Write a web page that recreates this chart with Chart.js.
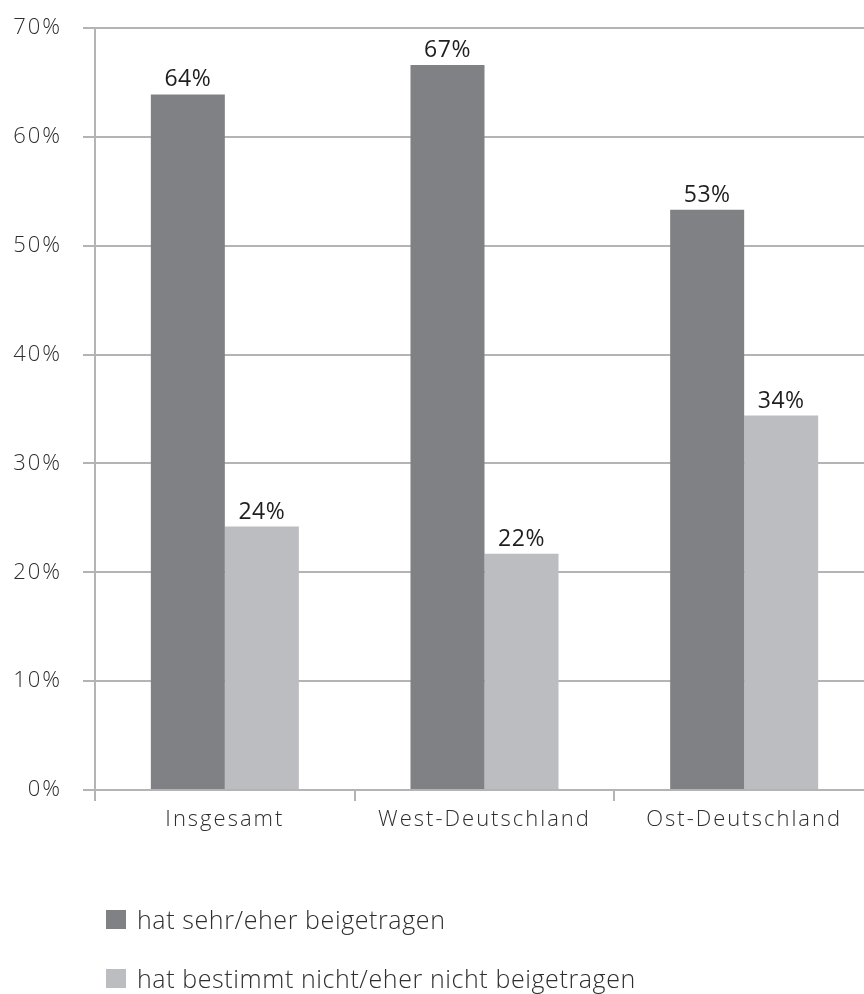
<!DOCTYPE html>
<html>
<head>
<meta charset="utf-8">
<script src="https://cdn.jsdelivr.net/npm/chart.js@4"></script>
<style>
  html, body { margin: 0; padding: 0; background: #fff; overflow: hidden; }
  #wrap { position: relative; width: 874px; height: 994px; }
  #legend { position: absolute; left: 106px; top: 903px; font-family: "Open Sans", sans-serif; font-weight: 300; font-size: 25px; letter-spacing: 0.6px; color: #2e2e2e; }
  .item { display: flex; align-items: center; height: 32px; margin-bottom: 27px; }
  .sw { width: 20px; height: 19px; margin-right: 11px; }
</style>
</head>
<body>
<div id="wrap">
  <canvas id="c" width="874" height="994"></canvas>
  <div id="legend"></div>
</div>
<script>
const categories = ["Insgesamt", "West-Deutschland", "Ost-Deutschland"];
const seriesNames = ["hat sehr/eher beigetragen", "hat bestimmt nicht/eher nicht beigetragen"];
const beigetragen = [63.9, 66.6, 53.3];
const nichtBeigetragen = [24.2, 21.7, 34.4];
const valueLabels = [[64, 67, 53], [24, 22, 34]];
const seriesColors = ["#808184", "#bcbdc1"];
const yTicks = [0, 10, 20, 30, 40, 50, 60, 70];

const dataLabels = {
  id: "dataLabels",
  beforeDraw(chart) { chart.ctx.letterSpacing = "2px"; },
  afterDatasetsDraw(chart) {
    const ctx = chart.ctx;
    ctx.save();
    ctx.letterSpacing = "0.5px";
    ctx.font = '400 23px "Open Sans", sans-serif';
    ctx.fillStyle = "#1e1e1e";
    ctx.textAlign = "center";
    ctx.textBaseline = "bottom";
    chart.data.datasets.forEach((ds, di) => {
      chart.getDatasetMeta(di).data.forEach((bar, i) => {
        ctx.fillText(valueLabels[di][i] + "%", bar.x, bar.y - 3);
      });
    });
    ctx.restore();
  }
};

const chart = new Chart(document.getElementById("c"), {
  type: "bar",
  data: {
    labels: categories,
    datasets: [
      { label: seriesNames[0], data: beigetragen, backgroundColor: seriesColors[0] },
      { label: seriesNames[1], data: nichtBeigetragen, backgroundColor: seriesColors[1] }
    ]
  },
  options: {
    responsive: false,
    animation: false,
    layout: { padding: { top: 28, left: 0, right: 0, bottom: 0 } },
    plugins: { legend: { display: false }, tooltip: { enabled: false } },
    datasets: { bar: { categoryPercentage: 0.57, barPercentage: 1.0 } },
    scales: {
      x: {
        afterFit(s) { s.height = 204; s.paddingLeft = 0; s.paddingRight = 0; },
        grid: { offset: true, drawOnChartArea: false, drawTicks: true, tickLength: 11, color: "#b4b4b6", lineWidth: 2 },
        border: { color: "#b4b4b6", width: 2 },
        ticks: { color: "#2e2e2e", padding: 6, font: { family: "Open Sans", size: 22, weight: 300 } }
      },
      y: {
        min: 0, max: 70,
        afterFit(s) { s.width = 95; s.paddingTop = 0; s.paddingBottom = 0; },
        afterBuildTicks(s) { s.ticks = yTicks.map(v => ({ value: v })); },
        grid: { color: "#b4b4b6", lineWidth: 2, drawTicks: true, tickLength: 12 },
        border: { color: "#b4b4b6", width: 2 },
        ticks: { color: "#2e2e2e", padding: 21, font: { family: "Open Sans", size: 22, weight: 300 }, callback: v => v + "%" }
      }
    }
  },
  plugins: [dataLabels]
});

const legend = document.getElementById("legend");
chart.data.datasets.forEach(ds => {
  const it = document.createElement("div");
  it.className = "item";
  const sw = document.createElement("span");
  sw.className = "sw";
  sw.style.background = ds.backgroundColor;
  const tx = document.createElement("span");
  tx.textContent = ds.label;
  it.appendChild(sw); it.appendChild(tx);
  legend.appendChild(it);
});
</script>
</body>
</html>
